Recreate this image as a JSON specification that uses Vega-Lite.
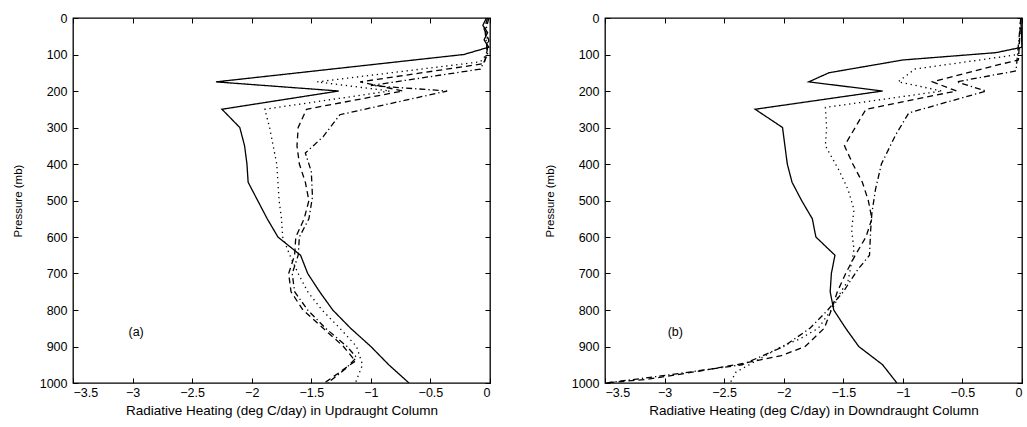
{
  "$schema": "https://vega.github.io/schema/vega-lite/v6.json",
  "background": "white",
  "padding": {"left": 11, "right": 5, "top": 11, "bottom": 5},
  "spacing": 51,
  "config": {
    "view": {"stroke": "black", "strokeWidth": 1.3},
    "font": "Liberation Sans",
    "axis": {
      "domain": false,
      "grid": false,
      "tickColor": "black",
      "tickSize": -5,
      "tickWidth": 1,
      "labelFont": "Liberation Sans",
      "labelFontSize": 12.5,
      "labelColor": "black",
      "titleFont": "Liberation Sans",
      "titleFontSize": 13.5,
      "titleFontWeight": "normal",
      "titleColor": "black"
    },
    "line": {"color": "black", "strokeWidth": 1.3}
  },
  "datasets": {
    "up": [
      {"s": "c1", "p": 0, "v": -0.03}, {"s": "c1", "p": 20, "v": -0.06}, {"s": "c1", "p": 40, "v": -0.02}, {"s": "c1", "p": 60, "v": -0.05}, {"s": "c1", "p": 80, "v": -0.01},
      {"s": "c1", "p": 100, "v": -0.22}, {"s": "c1", "p": 175, "v": -2.30}, {"s": "c1", "p": 200, "v": -1.27}, {"s": "c1", "p": 250, "v": -2.25}, {"s": "c1", "p": 300, "v": -2.10},
      {"s": "c1", "p": 350, "v": -2.06}, {"s": "c1", "p": 400, "v": -2.04}, {"s": "c1", "p": 450, "v": -2.03}, {"s": "c1", "p": 500, "v": -1.95}, {"s": "c1", "p": 550, "v": -1.87},
      {"s": "c1", "p": 600, "v": -1.78}, {"s": "c1", "p": 650, "v": -1.59}, {"s": "c1", "p": 700, "v": -1.53}, {"s": "c1", "p": 750, "v": -1.43}, {"s": "c1", "p": 800, "v": -1.32},
      {"s": "c1", "p": 850, "v": -1.17}, {"s": "c1", "p": 900, "v": -1.00}, {"s": "c1", "p": 950, "v": -0.85}, {"s": "c1", "p": 1000, "v": -0.68},

      {"s": "c2", "p": 0, "v": -0.01}, {"s": "c2", "p": 30, "v": -0.04}, {"s": "c2", "p": 60, "v": -0.02}, {"s": "c2", "p": 100, "v": -0.03}, {"s": "c2", "p": 120, "v": -0.08},
      {"s": "c2", "p": 175, "v": -1.45}, {"s": "c2", "p": 200, "v": -0.84}, {"s": "c2", "p": 250, "v": -1.89}, {"s": "c2", "p": 300, "v": -1.85}, {"s": "c2", "p": 350, "v": -1.82},
      {"s": "c2", "p": 400, "v": -1.79}, {"s": "c2", "p": 450, "v": -1.78}, {"s": "c2", "p": 500, "v": -1.77}, {"s": "c2", "p": 550, "v": -1.75}, {"s": "c2", "p": 600, "v": -1.74},
      {"s": "c2", "p": 650, "v": -1.68}, {"s": "c2", "p": 700, "v": -1.61}, {"s": "c2", "p": 750, "v": -1.53}, {"s": "c2", "p": 800, "v": -1.41}, {"s": "c2", "p": 850, "v": -1.26},
      {"s": "c2", "p": 900, "v": -1.12}, {"s": "c2", "p": 950, "v": -1.07}, {"s": "c2", "p": 1000, "v": -1.13},

      {"s": "c3", "p": 0, "v": -0.02}, {"s": "c3", "p": 30, "v": -0.05}, {"s": "c3", "p": 60, "v": -0.01}, {"s": "c3", "p": 100, "v": -0.03}, {"s": "c3", "p": 125, "v": -0.05},
      {"s": "c3", "p": 175, "v": -1.09}, {"s": "c3", "p": 200, "v": -0.73}, {"s": "c3", "p": 250, "v": -1.54}, {"s": "c3", "p": 300, "v": -1.61}, {"s": "c3", "p": 350, "v": -1.62},
      {"s": "c3", "p": 400, "v": -1.60}, {"s": "c3", "p": 450, "v": -1.55}, {"s": "c3", "p": 500, "v": -1.52}, {"s": "c3", "p": 550, "v": -1.56}, {"s": "c3", "p": 600, "v": -1.63},
      {"s": "c3", "p": 650, "v": -1.64}, {"s": "c3", "p": 700, "v": -1.69}, {"s": "c3", "p": 750, "v": -1.67}, {"s": "c3", "p": 800, "v": -1.57}, {"s": "c3", "p": 850, "v": -1.40},
      {"s": "c3", "p": 900, "v": -1.23}, {"s": "c3", "p": 940, "v": -1.13}, {"s": "c3", "p": 970, "v": -1.26}, {"s": "c3", "p": 1000, "v": -1.39},

      {"s": "c4", "p": 0, "v": -0.01}, {"s": "c4", "p": 40, "v": -0.04}, {"s": "c4", "p": 100, "v": -0.02}, {"s": "c4", "p": 140, "v": -0.08}, {"s": "c4", "p": 185, "v": -1.00},
      {"s": "c4", "p": 200, "v": -0.36}, {"s": "c4", "p": 265, "v": -1.26}, {"s": "c4", "p": 325, "v": -1.40}, {"s": "c4", "p": 370, "v": -1.55}, {"s": "c4", "p": 420, "v": -1.50},
      {"s": "c4", "p": 490, "v": -1.49}, {"s": "c4", "p": 550, "v": -1.52}, {"s": "c4", "p": 600, "v": -1.60}, {"s": "c4", "p": 650, "v": -1.61}, {"s": "c4", "p": 700, "v": -1.66},
      {"s": "c4", "p": 750, "v": -1.64}, {"s": "c4", "p": 800, "v": -1.53}, {"s": "c4", "p": 850, "v": -1.38}, {"s": "c4", "p": 900, "v": -1.20}, {"s": "c4", "p": 930, "v": -1.12},
      {"s": "c4", "p": 960, "v": -1.21}, {"s": "c4", "p": 1000, "v": -1.36}
    ],
    "down": [
      {"s": "c1", "p": 0, "v": -0.01}, {"s": "c1", "p": 80, "v": 0.0}, {"s": "c1", "p": 95, "v": -0.22}, {"s": "c1", "p": 115, "v": -1.00}, {"s": "c1", "p": 150, "v": -1.62},
      {"s": "c1", "p": 175, "v": -1.79}, {"s": "c1", "p": 200, "v": -1.17}, {"s": "c1", "p": 250, "v": -2.24}, {"s": "c1", "p": 300, "v": -2.01}, {"s": "c1", "p": 350, "v": -1.99},
      {"s": "c1", "p": 400, "v": -1.97}, {"s": "c1", "p": 450, "v": -1.93}, {"s": "c1", "p": 500, "v": -1.85}, {"s": "c1", "p": 550, "v": -1.76}, {"s": "c1", "p": 600, "v": -1.73},
      {"s": "c1", "p": 650, "v": -1.57}, {"s": "c1", "p": 700, "v": -1.60}, {"s": "c1", "p": 750, "v": -1.61}, {"s": "c1", "p": 800, "v": -1.58}, {"s": "c1", "p": 850, "v": -1.48},
      {"s": "c1", "p": 900, "v": -1.37}, {"s": "c1", "p": 950, "v": -1.17}, {"s": "c1", "p": 1000, "v": -1.05},

      {"s": "c2", "p": 0, "v": -0.01}, {"s": "c2", "p": 100, "v": -0.03}, {"s": "c2", "p": 140, "v": -0.90}, {"s": "c2", "p": 175, "v": -1.04}, {"s": "c2", "p": 200, "v": -0.67},
      {"s": "c2", "p": 245, "v": -1.65}, {"s": "c2", "p": 300, "v": -1.64}, {"s": "c2", "p": 350, "v": -1.65}, {"s": "c2", "p": 415, "v": -1.54}, {"s": "c2", "p": 470, "v": -1.46},
      {"s": "c2", "p": 525, "v": -1.41}, {"s": "c2", "p": 580, "v": -1.43}, {"s": "c2", "p": 635, "v": -1.41}, {"s": "c2", "p": 670, "v": -1.43}, {"s": "c2", "p": 720, "v": -1.46},
      {"s": "c2", "p": 750, "v": -1.52}, {"s": "c2", "p": 790, "v": -1.58}, {"s": "c2", "p": 850, "v": -1.71}, {"s": "c2", "p": 880, "v": -1.87}, {"s": "c2", "p": 900, "v": -2.02},
      {"s": "c2", "p": 930, "v": -2.18}, {"s": "c2", "p": 970, "v": -2.40}, {"s": "c2", "p": 1000, "v": -2.45},

      {"s": "c3", "p": 0, "v": -0.01}, {"s": "c3", "p": 115, "v": -0.03}, {"s": "c3", "p": 130, "v": -0.22}, {"s": "c3", "p": 175, "v": -0.75}, {"s": "c3", "p": 200, "v": -0.55},
      {"s": "c3", "p": 250, "v": -1.31}, {"s": "c3", "p": 300, "v": -1.40}, {"s": "c3", "p": 350, "v": -1.49}, {"s": "c3", "p": 400, "v": -1.42}, {"s": "c3", "p": 450, "v": -1.34},
      {"s": "c3", "p": 500, "v": -1.29}, {"s": "c3", "p": 550, "v": -1.26}, {"s": "c3", "p": 600, "v": -1.31}, {"s": "c3", "p": 650, "v": -1.40}, {"s": "c3", "p": 700, "v": -1.48},
      {"s": "c3", "p": 750, "v": -1.55}, {"s": "c3", "p": 800, "v": -1.60}, {"s": "c3", "p": 850, "v": -1.66}, {"s": "c3", "p": 900, "v": -1.82}, {"s": "c3", "p": 925, "v": -2.02},
      {"s": "c3", "p": 950, "v": -2.40}, {"s": "c3", "p": 975, "v": -2.85}, {"s": "c3", "p": 990, "v": -3.15}, {"s": "c3", "p": 1000, "v": -3.50},

      {"s": "c4", "p": 0, "v": -0.01}, {"s": "c4", "p": 145, "v": -0.05}, {"s": "c4", "p": 175, "v": -0.55}, {"s": "c4", "p": 200, "v": -0.30}, {"s": "c4", "p": 260, "v": -0.95},
      {"s": "c4", "p": 320, "v": -1.06}, {"s": "c4", "p": 400, "v": -1.18}, {"s": "c4", "p": 470, "v": -1.23}, {"s": "c4", "p": 535, "v": -1.26}, {"s": "c4", "p": 580, "v": -1.27},
      {"s": "c4", "p": 650, "v": -1.28}, {"s": "c4", "p": 690, "v": -1.38}, {"s": "c4", "p": 750, "v": -1.50}, {"s": "c4", "p": 800, "v": -1.63}, {"s": "c4", "p": 850, "v": -1.78},
      {"s": "c4", "p": 900, "v": -2.00}, {"s": "c4", "p": 950, "v": -2.35}, {"s": "c4", "p": 975, "v": -2.90}, {"s": "c4", "p": 990, "v": -3.25}, {"s": "c4", "p": 1000, "v": -3.50}
    ],
    "tags": [
      {"panel": "up", "label": "(a)", "v": -2.97, "p": 860},
      {"panel": "down", "label": "(b)", "v": -2.91, "p": 860}
    ]
  },
  "hconcat": [
    {
      "width": 417,
      "height": 365,
      "resolve": {"axis": {"x": "independent", "y": "independent"}},
      "layer": [
        {
          "data": {"name": "up"},
          "mark": {"type": "line", "clip": true},
          "encoding": {
            "x": {
              "field": "v", "type": "quantitative",
              "scale": {"domain": [-3.5, 0], "nice": false, "zero": false},
              "axis": {"orient": "bottom", "values": [-3.5, -3, -2.5, -2, -1.5, -1, -0.5, 0], "format": "~g", "labelPadding": 8, "title": "Radiative Heating (deg C/day) in Updraught Column", "titlePadding": 5}
            },
            "y": {
              "field": "p", "type": "quantitative",
              "scale": {"domain": [0, 1000], "reverse": true, "nice": false, "zero": false},
              "axis": {"orient": "left", "values": [0, 100, 200, 300, 400, 500, 600, 700, 800, 900, 1000], "format": "d", "labelPadding": 11, "title": "Pressure  (mb)", "titleFontSize": 11.5, "titlePadding": 16}
            },
            "order": {"field": "p", "type": "quantitative"},
            "strokeDash": {
              "field": "s", "type": "nominal", "legend": null,
              "scale": {"domain": ["c1", "c2", "c3", "c4"], "range": [[1, 0], [1.3, 3.7], [6, 4], [6, 3, 1.3, 3]]}
            }
          }
        },
        {
          "data": {"name": "tags"},
          "transform": [{"filter": "datum.panel === 'up'"}],
          "mark": {"type": "text", "fontSize": 12.5, "font": "Liberation Sans", "color": "black"},
          "encoding": {
            "x": {"field": "v", "type": "quantitative", "axis": {"orient": "top", "values": [-3.5, -3, -2.5, -2, -1.5, -1, -0.5, 0], "labels": false, "title": null}},
            "y": {"field": "p", "type": "quantitative", "axis": {"orient": "right", "values": [0, 100, 200, 300, 400, 500, 600, 700, 800, 900, 1000], "labels": false, "title": null}},
            "text": {"field": "label"}
          }
        }
      ]
    },
    {
      "width": 417,
      "height": 365,
      "resolve": {"axis": {"x": "independent", "y": "independent"}},
      "layer": [
        {
          "data": {"name": "down"},
          "mark": {"type": "line", "clip": true},
          "encoding": {
            "x": {
              "field": "v", "type": "quantitative",
              "scale": {"domain": [-3.5, 0], "nice": false, "zero": false},
              "axis": {"orient": "bottom", "values": [-3.5, -3, -2.5, -2, -1.5, -1, -0.5, 0], "format": "~g", "labelPadding": 8, "title": "Radiative Heating (deg C/day) in Downdraught Column", "titlePadding": 5}
            },
            "y": {
              "field": "p", "type": "quantitative",
              "scale": {"domain": [0, 1000], "reverse": true, "nice": false, "zero": false},
              "axis": {"orient": "left", "values": [0, 100, 200, 300, 400, 500, 600, 700, 800, 900, 1000], "format": "d", "labelPadding": 11, "title": "Pressure  (mb)", "titleFontSize": 11.5, "titlePadding": 16}
            },
            "order": {"field": "p", "type": "quantitative"},
            "strokeDash": {
              "field": "s", "type": "nominal", "legend": null,
              "scale": {"domain": ["c1", "c2", "c3", "c4"], "range": [[1, 0], [1.3, 3.7], [6, 4], [6, 3, 1.3, 3]]}
            }
          }
        },
        {
          "data": {"name": "tags"},
          "transform": [{"filter": "datum.panel === 'down'"}],
          "mark": {"type": "text", "fontSize": 12.5, "font": "Liberation Sans", "color": "black"},
          "encoding": {
            "x": {"field": "v", "type": "quantitative", "axis": {"orient": "top", "values": [-3.5, -3, -2.5, -2, -1.5, -1, -0.5, 0], "labels": false, "title": null}},
            "y": {"field": "p", "type": "quantitative", "axis": {"orient": "right", "values": [0, 100, 200, 300, 400, 500, 600, 700, 800, 900, 1000], "labels": false, "title": null}},
            "text": {"field": "label"}
          }
        }
      ]
    }
  ]
}
